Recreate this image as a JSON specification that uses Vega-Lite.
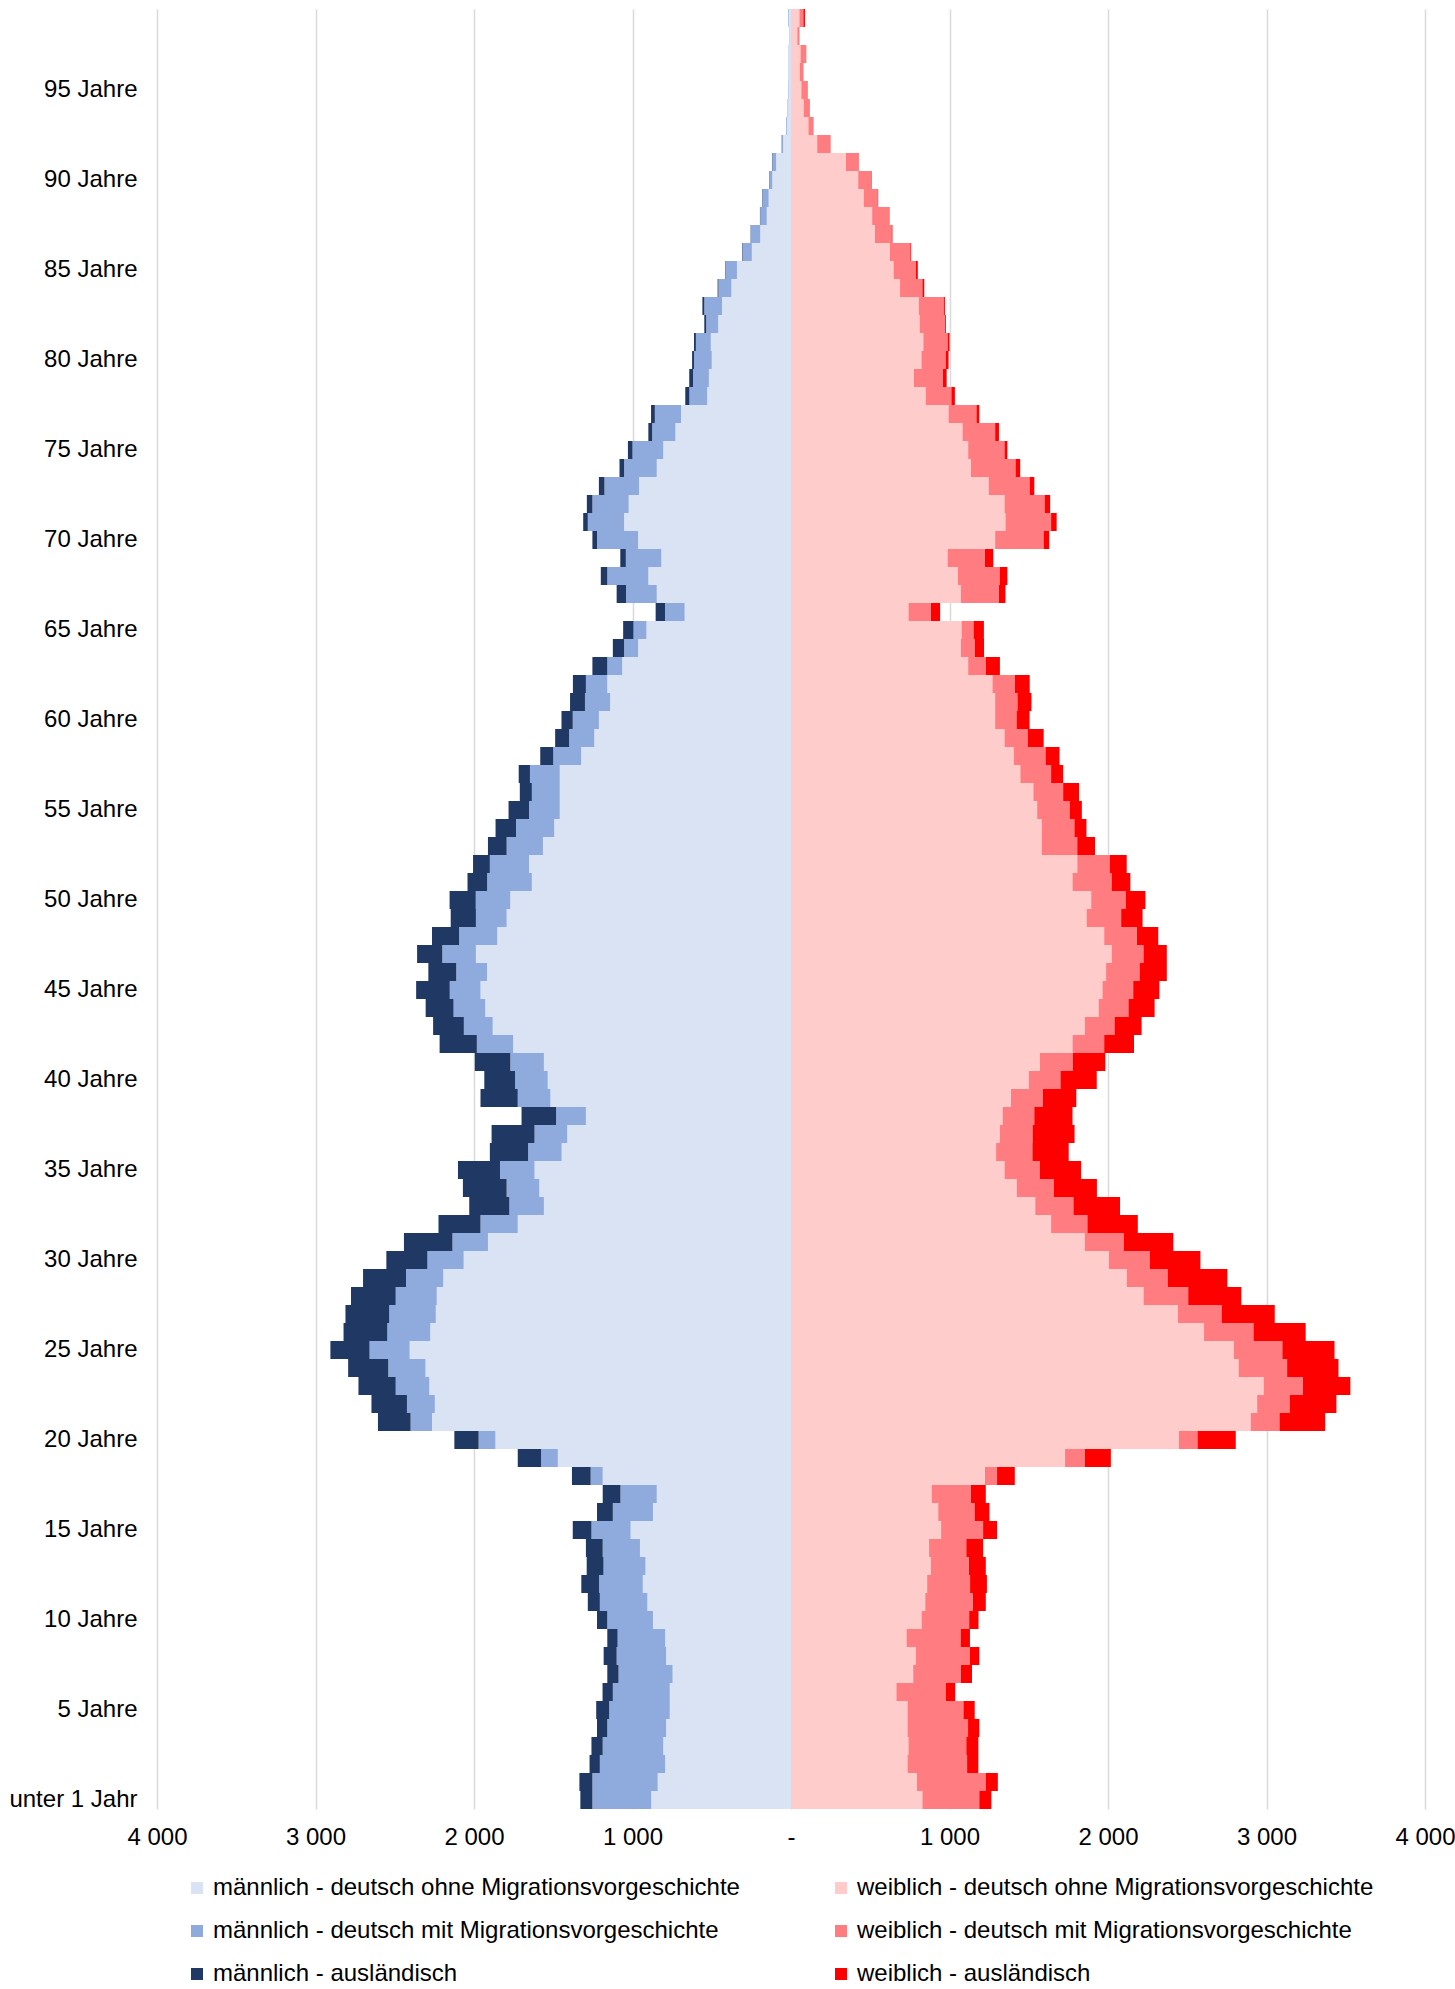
{
  "$schema": "https://vega.github.io/schema/vega-lite/v6.json",
  "width": 1268,
  "height": 1800,
  "autosize": {"type": "none"},
  "padding": {"left": 157, "top": 9, "right": 30, "bottom": 180},
  "background": "white",
  "config": {"view": {"stroke": null}, "font": "Liberation Sans"},
  "datasets": {
    "kategorien": [
      {"key": "m_ohne", "label": "männlich - deutsch ohne Migrationsvorgeschichte", "vorzeichen": -1, "rang": 1},
      {"key": "m_mit", "label": "männlich - deutsch mit Migrationsvorgeschichte", "vorzeichen": -1, "rang": 2},
      {"key": "m_aus", "label": "männlich - ausländisch", "vorzeichen": -1, "rang": 3},
      {"key": "w_ohne", "label": "weiblich - deutsch ohne Migrationsvorgeschichte", "vorzeichen": 1, "rang": 1},
      {"key": "w_mit", "label": "weiblich - deutsch mit Migrationsvorgeschichte", "vorzeichen": 1, "rang": 2},
      {"key": "w_aus", "label": "weiblich - ausländisch", "vorzeichen": 1, "rang": 3}
    ]
  },
  "data": {
    "values": [
      {"alter": 0, "m_ohne": 882, "m_mit": 371, "m_aus": 76, "w_ohne": 829, "w_mit": 359, "w_aus": 76},
      {"alter": 1, "m_ohne": 841, "m_mit": 412, "m_aus": 82, "w_ohne": 794, "w_mit": 435, "w_aus": 76},
      {"alter": 2, "m_ohne": 794, "m_mit": 412, "m_aus": 65, "w_ohne": 735, "w_mit": 376, "w_aus": 71},
      {"alter": 3, "m_ohne": 806, "m_mit": 382, "m_aus": 71, "w_ohne": 741, "w_mit": 365, "w_aus": 76},
      {"alter": 4, "m_ohne": 788, "m_mit": 371, "m_aus": 65, "w_ohne": 735, "w_mit": 382, "w_aus": 71},
      {"alter": 5, "m_ohne": 765, "m_mit": 382, "m_aus": 82, "w_ohne": 735, "w_mit": 353, "w_aus": 71},
      {"alter": 6, "m_ohne": 765, "m_mit": 359, "m_aus": 65, "w_ohne": 665, "w_mit": 312, "w_aus": 59},
      {"alter": 7, "m_ohne": 747, "m_mit": 341, "m_aus": 71, "w_ohne": 771, "w_mit": 300, "w_aus": 71},
      {"alter": 8, "m_ohne": 788, "m_mit": 312, "m_aus": 82, "w_ohne": 788, "w_mit": 341, "w_aus": 59},
      {"alter": 9, "m_ohne": 794, "m_mit": 300, "m_aus": 65, "w_ohne": 729, "w_mit": 341, "w_aus": 59},
      {"alter": 10, "m_ohne": 871, "m_mit": 288, "m_aus": 65, "w_ohne": 824, "w_mit": 300, "w_aus": 59},
      {"alter": 11, "m_ohne": 906, "m_mit": 300, "m_aus": 76, "w_ohne": 847, "w_mit": 300, "w_aus": 82},
      {"alter": 12, "m_ohne": 935, "m_mit": 276, "m_aus": 112, "w_ohne": 859, "w_mit": 271, "w_aus": 106},
      {"alter": 13, "m_ohne": 918, "m_mit": 265, "m_aus": 106, "w_ohne": 882, "w_mit": 241, "w_aus": 106},
      {"alter": 14, "m_ohne": 953, "m_mit": 235, "m_aus": 106, "w_ohne": 871, "w_mit": 235, "w_aus": 106},
      {"alter": 15, "m_ohne": 1012, "m_mit": 247, "m_aus": 118, "w_ohne": 947, "w_mit": 265, "w_aus": 88},
      {"alter": 16, "m_ohne": 871, "m_mit": 253, "m_aus": 100, "w_ohne": 929, "w_mit": 229, "w_aus": 94},
      {"alter": 17, "m_ohne": 847, "m_mit": 229, "m_aus": 112, "w_ohne": 888, "w_mit": 247, "w_aus": 94},
      {"alter": 18, "m_ohne": 1188, "m_mit": 76, "m_aus": 118, "w_ohne": 1224, "w_mit": 76, "w_aus": 112},
      {"alter": 19, "m_ohne": 1471, "m_mit": 106, "m_aus": 147, "w_ohne": 1729, "w_mit": 124, "w_aus": 165},
      {"alter": 20, "m_ohne": 1865, "m_mit": 106, "m_aus": 153, "w_ohne": 2447, "w_mit": 118, "w_aus": 241},
      {"alter": 21, "m_ohne": 2265, "m_mit": 135, "m_aus": 206, "w_ohne": 2900, "w_mit": 182, "w_aus": 288},
      {"alter": 22, "m_ohne": 2247, "m_mit": 176, "m_aus": 224, "w_ohne": 2941, "w_mit": 206, "w_aus": 294},
      {"alter": 23, "m_ohne": 2282, "m_mit": 212, "m_aus": 235, "w_ohne": 2982, "w_mit": 247, "w_aus": 300},
      {"alter": 24, "m_ohne": 2306, "m_mit": 235, "m_aus": 253, "w_ohne": 2824, "w_mit": 306, "w_aus": 324},
      {"alter": 25, "m_ohne": 2406, "m_mit": 253, "m_aus": 247, "w_ohne": 2794, "w_mit": 306, "w_aus": 329},
      {"alter": 26, "m_ohne": 2276, "m_mit": 271, "m_aus": 276, "w_ohne": 2606, "w_mit": 312, "w_aus": 329},
      {"alter": 27, "m_ohne": 2241, "m_mit": 294, "m_aus": 276, "w_ohne": 2441, "w_mit": 276, "w_aus": 335},
      {"alter": 28, "m_ohne": 2235, "m_mit": 259, "m_aus": 282, "w_ohne": 2224, "w_mit": 282, "w_aus": 335},
      {"alter": 29, "m_ohne": 2194, "m_mit": 235, "m_aus": 271, "w_ohne": 2118, "w_mit": 259, "w_aus": 376},
      {"alter": 30, "m_ohne": 2065, "m_mit": 229, "m_aus": 259, "w_ohne": 2006, "w_mit": 259, "w_aus": 318},
      {"alter": 31, "m_ohne": 1912, "m_mit": 224, "m_aus": 306, "w_ohne": 1853, "w_mit": 247, "w_aus": 312},
      {"alter": 32, "m_ohne": 1724, "m_mit": 235, "m_aus": 265, "w_ohne": 1641, "w_mit": 229, "w_aus": 318},
      {"alter": 33, "m_ohne": 1559, "m_mit": 218, "m_aus": 253, "w_ohne": 1541, "w_mit": 241, "w_aus": 294},
      {"alter": 34, "m_ohne": 1588, "m_mit": 206, "m_aus": 276, "w_ohne": 1424, "w_mit": 235, "w_aus": 271},
      {"alter": 35, "m_ohne": 1618, "m_mit": 218, "m_aus": 265, "w_ohne": 1347, "w_mit": 224, "w_aus": 259},
      {"alter": 36, "m_ohne": 1447, "m_mit": 212, "m_aus": 241, "w_ohne": 1294, "w_mit": 229, "w_aus": 229},
      {"alter": 37, "m_ohne": 1412, "m_mit": 206, "m_aus": 271, "w_ohne": 1318, "w_mit": 206, "w_aus": 265},
      {"alter": 38, "m_ohne": 1294, "m_mit": 188, "m_aus": 218, "w_ohne": 1335, "w_mit": 200, "w_aus": 241},
      {"alter": 39, "m_ohne": 1518, "m_mit": 206, "m_aus": 235, "w_ohne": 1388, "w_mit": 200, "w_aus": 212},
      {"alter": 40, "m_ohne": 1535, "m_mit": 206, "m_aus": 194, "w_ohne": 1500, "w_mit": 200, "w_aus": 229},
      {"alter": 41, "m_ohne": 1559, "m_mit": 212, "m_aus": 224, "w_ohne": 1571, "w_mit": 206, "w_aus": 206},
      {"alter": 42, "m_ohne": 1753, "m_mit": 229, "m_aus": 235, "w_ohne": 1776, "w_mit": 200, "w_aus": 188},
      {"alter": 43, "m_ohne": 1882, "m_mit": 182, "m_aus": 194, "w_ohne": 1853, "w_mit": 188, "w_aus": 171},
      {"alter": 44, "m_ohne": 1929, "m_mit": 200, "m_aus": 176, "w_ohne": 1941, "w_mit": 188, "w_aus": 165},
      {"alter": 45, "m_ohne": 1959, "m_mit": 194, "m_aus": 212, "w_ohne": 1965, "w_mit": 194, "w_aus": 165},
      {"alter": 46, "m_ohne": 1918, "m_mit": 194, "m_aus": 176, "w_ohne": 1988, "w_mit": 212, "w_aus": 171},
      {"alter": 47, "m_ohne": 1988, "m_mit": 212, "m_aus": 159, "w_ohne": 2024, "w_mit": 200, "w_aus": 147},
      {"alter": 48, "m_ohne": 1853, "m_mit": 241, "m_aus": 171, "w_ohne": 1976, "w_mit": 206, "w_aus": 135},
      {"alter": 49, "m_ohne": 1794, "m_mit": 194, "m_aus": 159, "w_ohne": 1865, "w_mit": 218, "w_aus": 135},
      {"alter": 50, "m_ohne": 1771, "m_mit": 218, "m_aus": 165, "w_ohne": 1894, "w_mit": 218, "w_aus": 124},
      {"alter": 51, "m_ohne": 1635, "m_mit": 282, "m_aus": 124, "w_ohne": 1776, "w_mit": 247, "w_aus": 118},
      {"alter": 52, "m_ohne": 1653, "m_mit": 247, "m_aus": 106, "w_ohne": 1806, "w_mit": 206, "w_aus": 106},
      {"alter": 53, "m_ohne": 1565, "m_mit": 229, "m_aus": 118, "w_ohne": 1582, "w_mit": 224, "w_aus": 112},
      {"alter": 54, "m_ohne": 1494, "m_mit": 241, "m_aus": 129, "w_ohne": 1582, "w_mit": 206, "w_aus": 76},
      {"alter": 55, "m_ohne": 1459, "m_mit": 194, "m_aus": 129, "w_ohne": 1553, "w_mit": 206, "w_aus": 76},
      {"alter": 56, "m_ohne": 1459, "m_mit": 176, "m_aus": 76, "w_ohne": 1529, "w_mit": 188, "w_aus": 100},
      {"alter": 57, "m_ohne": 1459, "m_mit": 188, "m_aus": 71, "w_ohne": 1447, "w_mit": 194, "w_aus": 76},
      {"alter": 58, "m_ohne": 1324, "m_mit": 176, "m_aus": 82, "w_ohne": 1406, "w_mit": 200, "w_aus": 88},
      {"alter": 59, "m_ohne": 1241, "m_mit": 159, "m_aus": 88, "w_ohne": 1347, "w_mit": 147, "w_aus": 100},
      {"alter": 60, "m_ohne": 1212, "m_mit": 165, "m_aus": 71, "w_ohne": 1288, "w_mit": 135, "w_aus": 82},
      {"alter": 61, "m_ohne": 1141, "m_mit": 159, "m_aus": 94, "w_ohne": 1288, "w_mit": 141, "w_aus": 88},
      {"alter": 62, "m_ohne": 1159, "m_mit": 135, "m_aus": 82, "w_ohne": 1271, "w_mit": 141, "w_aus": 94},
      {"alter": 63, "m_ohne": 1065, "m_mit": 94, "m_aus": 94, "w_ohne": 1118, "w_mit": 112, "w_aus": 88},
      {"alter": 64, "m_ohne": 965, "m_mit": 88, "m_aus": 71, "w_ohne": 1071, "w_mit": 88, "w_aus": 59},
      {"alter": 65, "m_ohne": 912, "m_mit": 82, "m_aus": 65, "w_ohne": 1076, "w_mit": 76, "w_aus": 65},
      {"alter": 66, "m_ohne": 671, "m_mit": 124, "m_aus": 59, "w_ohne": 741, "w_mit": 141, "w_aus": 59},
      {"alter": 67, "m_ohne": 847, "m_mit": 194, "m_aus": 59, "w_ohne": 1071, "w_mit": 241, "w_aus": 41},
      {"alter": 68, "m_ohne": 900, "m_mit": 259, "m_aus": 41, "w_ohne": 1053, "w_mit": 265, "w_aus": 47},
      {"alter": 69, "m_ohne": 818, "m_mit": 224, "m_aus": 35, "w_ohne": 988, "w_mit": 235, "w_aus": 53},
      {"alter": 70, "m_ohne": 965, "m_mit": 259, "m_aus": 29, "w_ohne": 1288, "w_mit": 306, "w_aus": 35},
      {"alter": 71, "m_ohne": 1053, "m_mit": 229, "m_aus": 29, "w_ohne": 1353, "w_mit": 288, "w_aus": 35},
      {"alter": 72, "m_ohne": 1024, "m_mit": 229, "m_aus": 35, "w_ohne": 1347, "w_mit": 253, "w_aus": 35},
      {"alter": 73, "m_ohne": 959, "m_mit": 218, "m_aus": 35, "w_ohne": 1247, "w_mit": 259, "w_aus": 29},
      {"alter": 74, "m_ohne": 847, "m_mit": 206, "m_aus": 29, "w_ohne": 1135, "w_mit": 282, "w_aus": 29},
      {"alter": 75, "m_ohne": 806, "m_mit": 194, "m_aus": 29, "w_ohne": 1118, "w_mit": 229, "w_aus": 18},
      {"alter": 76, "m_ohne": 729, "m_mit": 147, "m_aus": 24, "w_ohne": 1082, "w_mit": 206, "w_aus": 24},
      {"alter": 77, "m_ohne": 694, "m_mit": 165, "m_aus": 24, "w_ohne": 994, "w_mit": 176, "w_aus": 18},
      {"alter": 78, "m_ohne": 529, "m_mit": 112, "m_aus": 26, "w_ohne": 850, "w_mit": 162, "w_aus": 22},
      {"alter": 79, "m_ohne": 518, "m_mit": 100, "m_aus": 24, "w_ohne": 776, "w_mit": 182, "w_aus": 24},
      {"alter": 80, "m_ohne": 500, "m_mit": 112, "m_aus": 12, "w_ohne": 823, "w_mit": 153, "w_aus": 18},
      {"alter": 81, "m_ohne": 506, "m_mit": 94, "m_aus": 12, "w_ohne": 835, "w_mit": 153, "w_aus": 12},
      {"alter": 82, "m_ohne": 459, "m_mit": 76, "m_aus": 12, "w_ohne": 812, "w_mit": 159, "w_aus": 6},
      {"alter": 83, "m_ohne": 435, "m_mit": 112, "m_aus": 12, "w_ohne": 806, "w_mit": 159, "w_aus": 6},
      {"alter": 84, "m_ohne": 376, "m_mit": 82, "m_aus": 5, "w_ohne": 688, "w_mit": 141, "w_aus": 12},
      {"alter": 85, "m_ohne": 341, "m_mit": 71, "m_aus": 3, "w_ohne": 647, "w_mit": 141, "w_aus": 12},
      {"alter": 86, "m_ohne": 247, "m_mit": 59, "m_aus": 3, "w_ohne": 624, "w_mit": 129, "w_aus": 5},
      {"alter": 87, "m_ohne": 194, "m_mit": 59, "m_aus": 2, "w_ohne": 529, "w_mit": 106, "w_aus": 5},
      {"alter": 88, "m_ohne": 153, "m_mit": 41, "m_aus": 2, "w_ohne": 512, "w_mit": 106, "w_aus": 3},
      {"alter": 89, "m_ohne": 141, "m_mit": 40, "m_aus": 2, "w_ohne": 459, "w_mit": 88, "w_aus": 3},
      {"alter": 90, "m_ohne": 118, "m_mit": 18, "m_aus": 2, "w_ohne": 424, "w_mit": 82, "w_aus": 3},
      {"alter": 91, "m_ohne": 94, "m_mit": 24, "m_aus": 2, "w_ohne": 347, "w_mit": 76, "w_aus": 3},
      {"alter": 92, "m_ohne": 50, "m_mit": 9, "m_aus": 1, "w_ohne": 165, "w_mit": 82, "w_aus": 2},
      {"alter": 93, "m_ohne": 25, "m_mit": 5, "m_aus": 0, "w_ohne": 110, "w_mit": 31, "w_aus": 1},
      {"alter": 94, "m_ohne": 18, "m_mit": 4, "m_aus": 0, "w_ohne": 80, "w_mit": 38, "w_aus": 1},
      {"alter": 95, "m_ohne": 15, "m_mit": 3, "m_aus": 0, "w_ohne": 65, "w_mit": 40, "w_aus": 1},
      {"alter": 96, "m_ohne": 12, "m_mit": 3, "m_aus": 0, "w_ohne": 55, "w_mit": 22, "w_aus": 1},
      {"alter": 97, "m_ohne": 12, "m_mit": 3, "m_aus": 0, "w_ohne": 60, "w_mit": 35, "w_aus": 1},
      {"alter": 98, "m_ohne": 10, "m_mit": 2, "m_aus": 0, "w_ohne": 40, "w_mit": 12, "w_aus": 1},
      {"alter": 99, "m_ohne": 14, "m_mit": 4, "m_aus": 0, "w_ohne": 53, "w_mit": 25, "w_aus": 10}
    ]
  },
  "transform": [
    {"fold": ["m_ohne", "m_mit", "m_aus", "w_ohne", "w_mit", "w_aus"], "as": ["key", "wert"]},
    {"lookup": "key", "from": {"data": {"name": "kategorien"}, "key": "key", "fields": ["label", "vorzeichen", "rang"]}},
    {"calculate": "datum.wert * datum.vorzeichen", "as": "x"}
  ],
  "mark": {"type": "bar", "strokeWidth": 0},
  "encoding": {
    "y": {
      "field": "alter",
      "type": "ordinal",
      "sort": "descending",
      "scale": {"paddingInner": 0, "paddingOuter": 0},
      "axis": {
        "title": null,
        "values": [0, 5, 10, 15, 20, 25, 30, 35, 40, 45, 50, 55, 60, 65, 70, 75, 80, 85, 90, 95],
        "labelExpr": "datum.value == 0 ? 'unter 1 Jahr' : datum.value + ' Jahre'",
        "ticks": false,
        "domain": false,
        "grid": false,
        "labelFontSize": 24,
        "labelFont": "Liberation Sans",
        "labelColor": "#000000",
        "labelPadding": 20
      }
    },
    "x": {
      "field": "x",
      "type": "quantitative",
      "stack": "zero",
      "scale": {"domain": [-4000, 4000], "nice": false},
      "axis": {
        "title": null,
        "values": [-4000, -3000, -2000, -1000, 0, 1000, 2000, 3000, 4000],
        "labelExpr": "datum.value == 0 ? '-' : replace(format(abs(datum.value), ','), ',', ' ')",
        "grid": true,
        "gridColor": "#d9d9d9",
        "gridWidth": 1.5,
        "domain": false,
        "ticks": false,
        "tickSize": 0,
        "labelFlush": false,
        "labelFontSize": 24,
        "labelFont": "Liberation Sans",
        "labelColor": "#000000",
        "labelPadding": 16
      }
    },
    "color": {
      "field": "label",
      "type": "nominal",
      "scale": {
        "domain": [
          "männlich - deutsch ohne Migrationsvorgeschichte",
          "männlich - deutsch mit Migrationsvorgeschichte",
          "männlich - ausländisch",
          "weiblich - deutsch ohne Migrationsvorgeschichte",
          "weiblich - deutsch mit Migrationsvorgeschichte",
          "weiblich - ausländisch"
        ],
        "range": ["#dae3f3", "#8faadc", "#1f3864", "#ffcccc", "#ff7c80", "#ff0000"]
      },
      "legend": {
        "title": null,
        "orient": "none",
        "legendX": 28,
        "legendY": 1867,
        "columns": 2,
        "columnPadding": 89,
        "rowPadding": 19,
        "labelFontSize": 24,
        "labelFont": "Liberation Sans",
        "labelColor": "#000000",
        "labelLimit": 1000,
        "labelOffset": 4,
        "symbolType": "square",
        "symbolSize": 144,
        "symbolStrokeWidth": 0
      }
    },
    "order": {"field": "rang", "type": "quantitative"}
  }
}
